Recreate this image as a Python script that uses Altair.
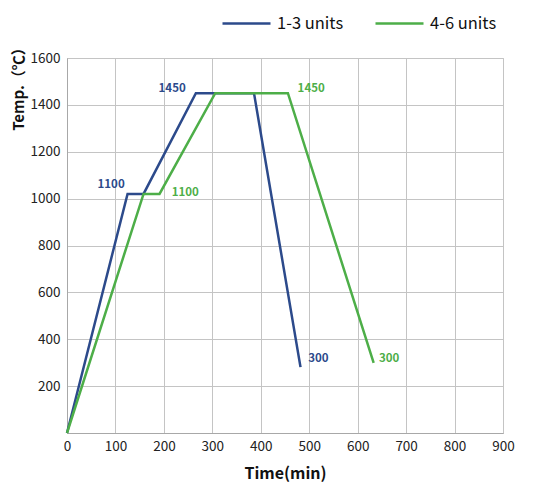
import altair as alt
import pandas as pd

# Data
time_13 = [0, 125, 158, 266, 386, 482]
temp_13 = [0, 1020, 1020, 1450, 1450, 281]
time_46 = [0, 158, 191, 306, 456, 633]
temp_46 = [0, 1020, 1020, 1450, 1450, 299]
series = ["1-3 units", "4-6 units"]
colors = ["#2C4A8B", "#4DAE48"]

label_text = ["1100", "1450", "300", "1100", "1450", "300"]
label_series = ["1-3 units", "1-3 units", "1-3 units", "4-6 units", "4-6 units", "4-6 units"]
label_time = [91, 217, 519, 244, 504, 665]
label_temp = [1058, 1467, 316, 1023, 1467, 316]

x_ticks = [0, 100, 200, 300, 400, 500, 600, 700, 800, 900]
y_ticks = [200, 400, 600, 800, 1000, 1200, 1400, 1600]

rows = []
for t, v in zip(time_13, temp_13):
    rows.append({"time": t, "temp": v, "series": series[0]})
for t, v in zip(time_46, temp_46):
    rows.append({"time": t, "temp": v, "series": series[1]})
df = pd.DataFrame(rows)
df["order"] = list(range(len(time_13))) + list(range(len(time_46)))

lab = pd.DataFrame({"text": label_text, "series": label_series,
                    "time": label_time, "temp": label_temp})

FONT = "Noto Sans CJK SC"

color_scale = alt.Scale(domain=series, range=colors)

x_enc = alt.X("time:Q", scale=alt.Scale(domain=[0, 900], nice=False),
              axis=alt.Axis(values=x_ticks, format="d", title="Time(min)", titleFontSize=16,
                            titleFontWeight="bold", titlePadding=13, labelFontSize=13.5,
                            labelPadding=6, labelFlush=False, labelOverlap=False,
                            ticks=False, domainColor="#A8A8A8",
                            gridColor="#C4C4C4", labelColor="#222222", titleColor="#111111"))
y_enc = alt.Y("temp:Q", scale=alt.Scale(domain=[0, 1600], nice=False),
              axis=alt.Axis(values=[0] + y_ticks, format="d",
                            labelExpr="datum.value == 0 ? '' : datum.label",
                            title="Temp.（℃）", titleFontSize=15,
                            titleFontWeight="bold", titleAngle=270, titleX=-49, titleY=27,
                            titleAlign="center", titleBaseline="middle",
                            labelFontSize=13.5, labelPadding=7, ticks=False,
                            labelFlush=False, labelOverlap=False,
                            domainColor="#A8A8A8", gridColor="#C4C4C4",
                            labelColor="#222222", titleColor="#111111"))

lines = alt.Chart(df).mark_line(strokeWidth=2.5).encode(
    x=x_enc, y=y_enc,
    color=alt.Color("series:N", scale=color_scale,
                    legend=alt.Legend(title=None, orient="none", legendX=154, legendY=-60,
                                      direction="horizontal", symbolType="stroke",
                                      symbolSize=2304, symbolStrokeWidth=2.5,
                                      labelFontSize=16.5, labelOffset=5, columnPadding=26,
                                      labelColor="#111111")),
    order="order:Q",
)

texts = alt.Chart(lab).mark_text(fontSize=11.5, fontWeight="bold", font=FONT).encode(
    x="time:Q", y="temp:Q", text="text:N",
    color=alt.Color("series:N", scale=color_scale, legend=None),
)

chart = (lines + texts).properties(
    width=436, height=375,
    autosize=alt.AutoSizeParams(type="none"),
    padding={"left": 59, "top": 50, "right": 23, "bottom": 55},
).configure(font=FONT).configure_view(stroke="#C4C4C4", strokeWidth=1)

chart.save("out.html", embed_options={"renderer": "svg", "actions": False})
